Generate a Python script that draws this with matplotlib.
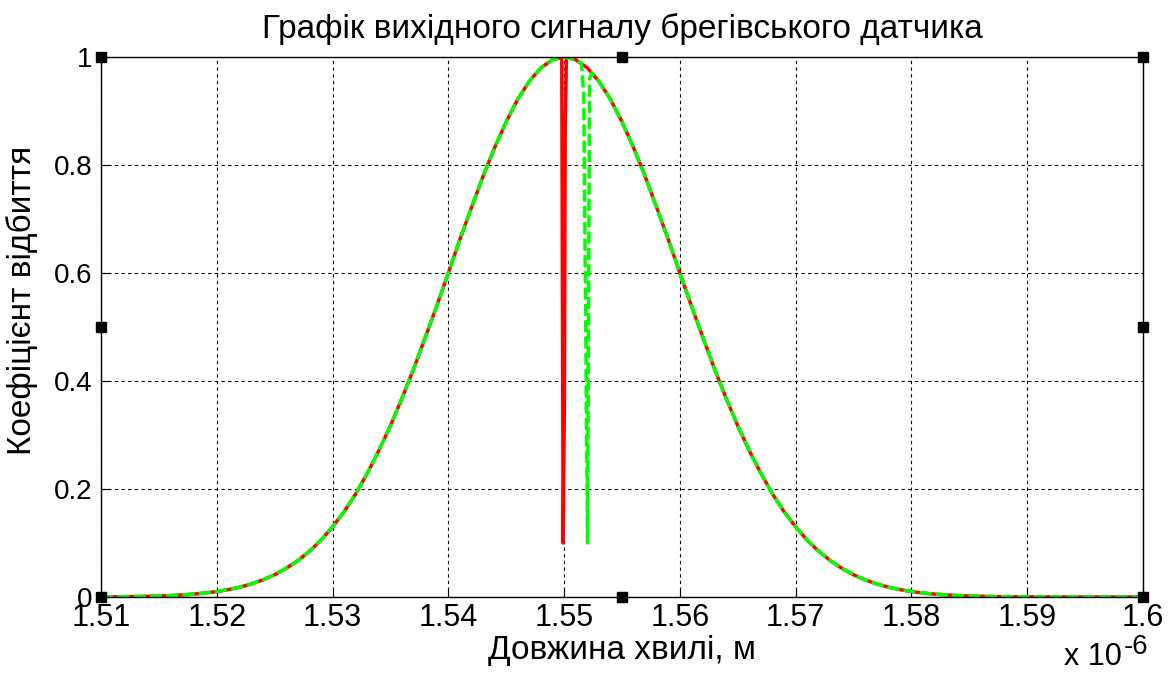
import matplotlib
matplotlib.use('Agg')
import matplotlib.pyplot as plt
import matplotlib.ticker as ticker
import numpy as np

plt.rcParams['font.family'] = ['Liberation Sans', 'DejaVu Sans']

# wavelength grid (x 1e-6 m), step 0.001, and reflectance
wl_base = np.linspace(1.510, 1.600, 91)
refl_base = [
    # 1.510 .. 1.549
    0.0003, 0.0004, 0.0006, 0.0009, 0.0013, 0.0019, 0.0027, 0.0039, 0.0054, 0.0074,
    0.0101, 0.0137, 0.0183, 0.0243, 0.0318, 0.0412, 0.0530, 0.0673, 0.0847, 0.105,
    0.130, 0.158, 0.191, 0.229, 0.271, 0.317, 0.368, 0.422, 0.480, 0.539,
    0.600, 0.662, 0.721, 0.779, 0.832, 0.880, 0.922, 0.955, 0.980, 0.995,
    # 1.550
    1.000,
    # 1.551 .. 1.600
    0.995, 0.980, 0.955, 0.922, 0.880, 0.832, 0.779, 0.721, 0.662, 0.600,
    0.539, 0.480, 0.422, 0.368, 0.317, 0.271, 0.229, 0.191, 0.158, 0.130,
    0.105, 0.0847, 0.0673, 0.0530, 0.0412, 0.0318, 0.0243, 0.0183, 0.0137, 0.0101,
    0.0074, 0.0054, 0.0039, 0.0027, 0.0019, 0.0013, 0.0009, 0.0006, 0.0004, 0.0003,
    0.0002, 0.0001, 0.0001, 0.0001, 0.0, 0.0, 0.0, 0.0, 0.0, 0.0,
]

# narrow notches of the two sensor signals
wl_dip_red = [1.5498, 1.54992, 1.55002, 1.55010, 1.5502]
refl_dip_red = [0.999, 0.10, 0.35, 0.87, 0.999]
wl_dip_green = [1.5515, 1.5517, 1.55203, 1.5522, 1.5524]
refl_dip_green = [0.989, 0.93, 0.10, 0.96, 0.971]


def merge(xs, ys, dx, dy):
    lo, hi = min(dx), max(dx)
    pts = [(a, b) for a, b in zip(xs, ys) if not (lo <= a <= hi)]
    pts = sorted(pts + list(zip(dx, dy)))
    return np.array([p[0] for p in pts]) * 1e-6, np.array([p[1] for p in pts])


x_red, y_red = merge(wl_base, refl_base, wl_dip_red, refl_dip_red)
x_green, y_green = merge(wl_base, refl_base, wl_dip_green, refl_dip_green)

fig = plt.figure(figsize=(11.74, 6.73), dpi=100)
ax = fig.add_axes([0.0860, 0.1129, 0.8876, 0.8024])

ax.plot(x_red, y_red, color='#ff0000', linewidth=2.5)
ax.plot(x_green, y_green, color='#00ff00', linewidth=2.5, linestyle=(0, (3.5, 1.2)))

ax.set_xlim(1.51e-6, 1.60e-6)
ax.set_ylim(0, 1)
ax.set_xticks(np.arange(1.51, 1.6001, 0.01) * 1e-6)
ax.set_yticks([0, 0.2, 0.4, 0.6, 0.8, 1])
ax.xaxis.set_major_formatter(ticker.FuncFormatter(lambda v, p: f'{v * 1e6:.2f}'.rstrip('0').rstrip('.')))
ax.yaxis.set_major_formatter(ticker.FuncFormatter(lambda v, p: f'{v:g}'))

ax.grid(True, color='black', linestyle=(0, (3, 3)), linewidth=0.8)
ax.tick_params(direction='in', length=6)
ax.tick_params(axis='y', pad=6, labelsize=20)
ax.tick_params(axis='x', pad=4, labelsize=22)
for s in ax.spines.values():
    s.set_linewidth(1.0)

ax.set_title('Графік вихідного сигналу брегівського датчика', fontsize=24, pad=14)
ax.set_xlabel('Довжина хвилі, м', fontsize=24, labelpad=2)
ax.set_ylabel('Коефіцієнт відбиття', fontsize=24)
ax.yaxis.set_label_coords(-0.0605, 0.55)

# exponent note under the right end of the x axis
fig.text(1122 / 1174, 1 - 665 / 673, 'x 10', fontsize=22, ha='right', va='baseline')
fig.text(1124 / 1174, 1 - 654 / 673, '-6', fontsize=20, ha='left', va='baseline')

# selection handles on the axes frame
hx = [0, 0.5, 1, 0, 1, 0, 0.5, 1]
hy = [0, 0, 0, 0.5, 0.5, 1, 1, 1]
ax.plot(hx, hy, linestyle='none', marker='s', markersize=7, color='black',
        transform=ax.transAxes, clip_on=False, zorder=5)

fig.savefig('out.png', dpi=100)
